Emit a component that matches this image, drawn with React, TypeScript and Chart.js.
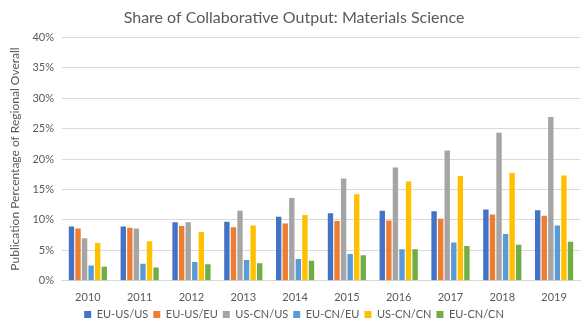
import React, { useEffect, useRef } from "react";
import { Chart, registerables } from "chart.js";

Chart.register(...registerables);

const years = ["2010", "2011", "2012", "2013", "2014", "2015", "2016", "2017", "2018", "2019"];
const euUsUs = [8.9, 8.9, 9.6, 9.7, 10.5, 11.1, 11.5, 11.4, 11.7, 11.6];
const euUsEu = [8.6, 8.7, 9.0, 8.8, 9.4, 9.8, 9.9, 10.2, 10.9, 10.7];
const usCnUs = [7.0, 8.6, 9.6, 11.5, 13.6, 16.8, 18.6, 21.4, 24.3, 26.9];
const euCnEu = [2.5, 2.8, 3.1, 3.4, 3.6, 4.4, 5.2, 6.3, 7.7, 9.1];
const usCnCn = [6.2, 6.5, 8.0, 9.1, 10.8, 14.2, 16.3, 17.2, 17.7, 17.3];
const euCnCn = [2.3, 2.2, 2.7, 2.9, 3.3, 4.2, 5.2, 5.7, 5.9, 6.4];
const seriesNames = ["EU-US/US", "EU-US/EU", "US-CN/US", "EU-CN/EU", "US-CN/CN", "EU-CN/CN"];
const seriesColors = ["#4472C4", "#ED7D31", "#A5A5A5", "#5B9BD5", "#FFC000", "#70AD47"];

export default function App() {
  const ref = useRef<HTMLCanvasElement>(null);
  useEffect(() => {
    if (!ref.current) return;
    const values = [euUsUs, euUsEu, usCnUs, euCnEu, usCnCn, euCnCn];
    const font = "Lato, 'Open Sans', sans-serif";
    const chart = new Chart(ref.current, {
      type: "bar",
      data: {
        labels: years,
        datasets: values.map((v, i) => ({
          label: seriesNames[i],
          data: v,
          backgroundColor: seriesColors[i],
          borderWidth: 0,
          barPercentage: 0.82,
          categoryPercentage: 0.76,
        })),
      },
      options: {
        animation: false,
        responsive: false,
        maintainAspectRatio: false,
        layout: { padding: { left: 8, right: 6, top: 6, bottom: 0 } },
        plugins: {
          title: {
            display: true,
            text: "Share of Collaborative Output: Materials Science",
            color: "#595959",
            font: { family: font, size: 16, weight: "normal" },
            padding: { top: 2, bottom: 10 },
          },
          legend: {
            position: "bottom",
            labels: {
              color: "#595959",
              font: { family: font, size: 11 },
              boxWidth: 7,
              boxHeight: 7,
              padding: 5,
            },
          },
          tooltip: { enabled: false },
        },
        scales: {
          x: {
            grid: { display: false, tickLength: 10 },
            border: { color: "#d9d9d9" },
            ticks: { color: "#595959", font: { family: font, size: 11 }, padding: 0 },
          },
          y: {
            min: 0,
            max: 40,
            grid: { color: "#d9d9d9", drawTicks: false },
            border: { display: false },
            ticks: {
              stepSize: 5,
              color: "#595959",
              font: { family: font, size: 11 },
              padding: 8,
              callback: (v: any) => v + "%",
            },
            title: {
              display: true,
              text: "Publication Percentage of Regional Overall",
              color: "#595959",
              font: { family: font, size: 12 },
              padding: { top: 0, bottom: 2 },
            },
          },
        },
      },
    });
    return () => chart.destroy();
  }, []);
  return (
    <div style={{ position: "absolute", left: 0, top: 0, width: 586, height: 330, background: "#fff" }}>
      <canvas ref={ref} width={586} height={330} style={{ width: 586, height: 330 }} />
    </div>
  );
}
